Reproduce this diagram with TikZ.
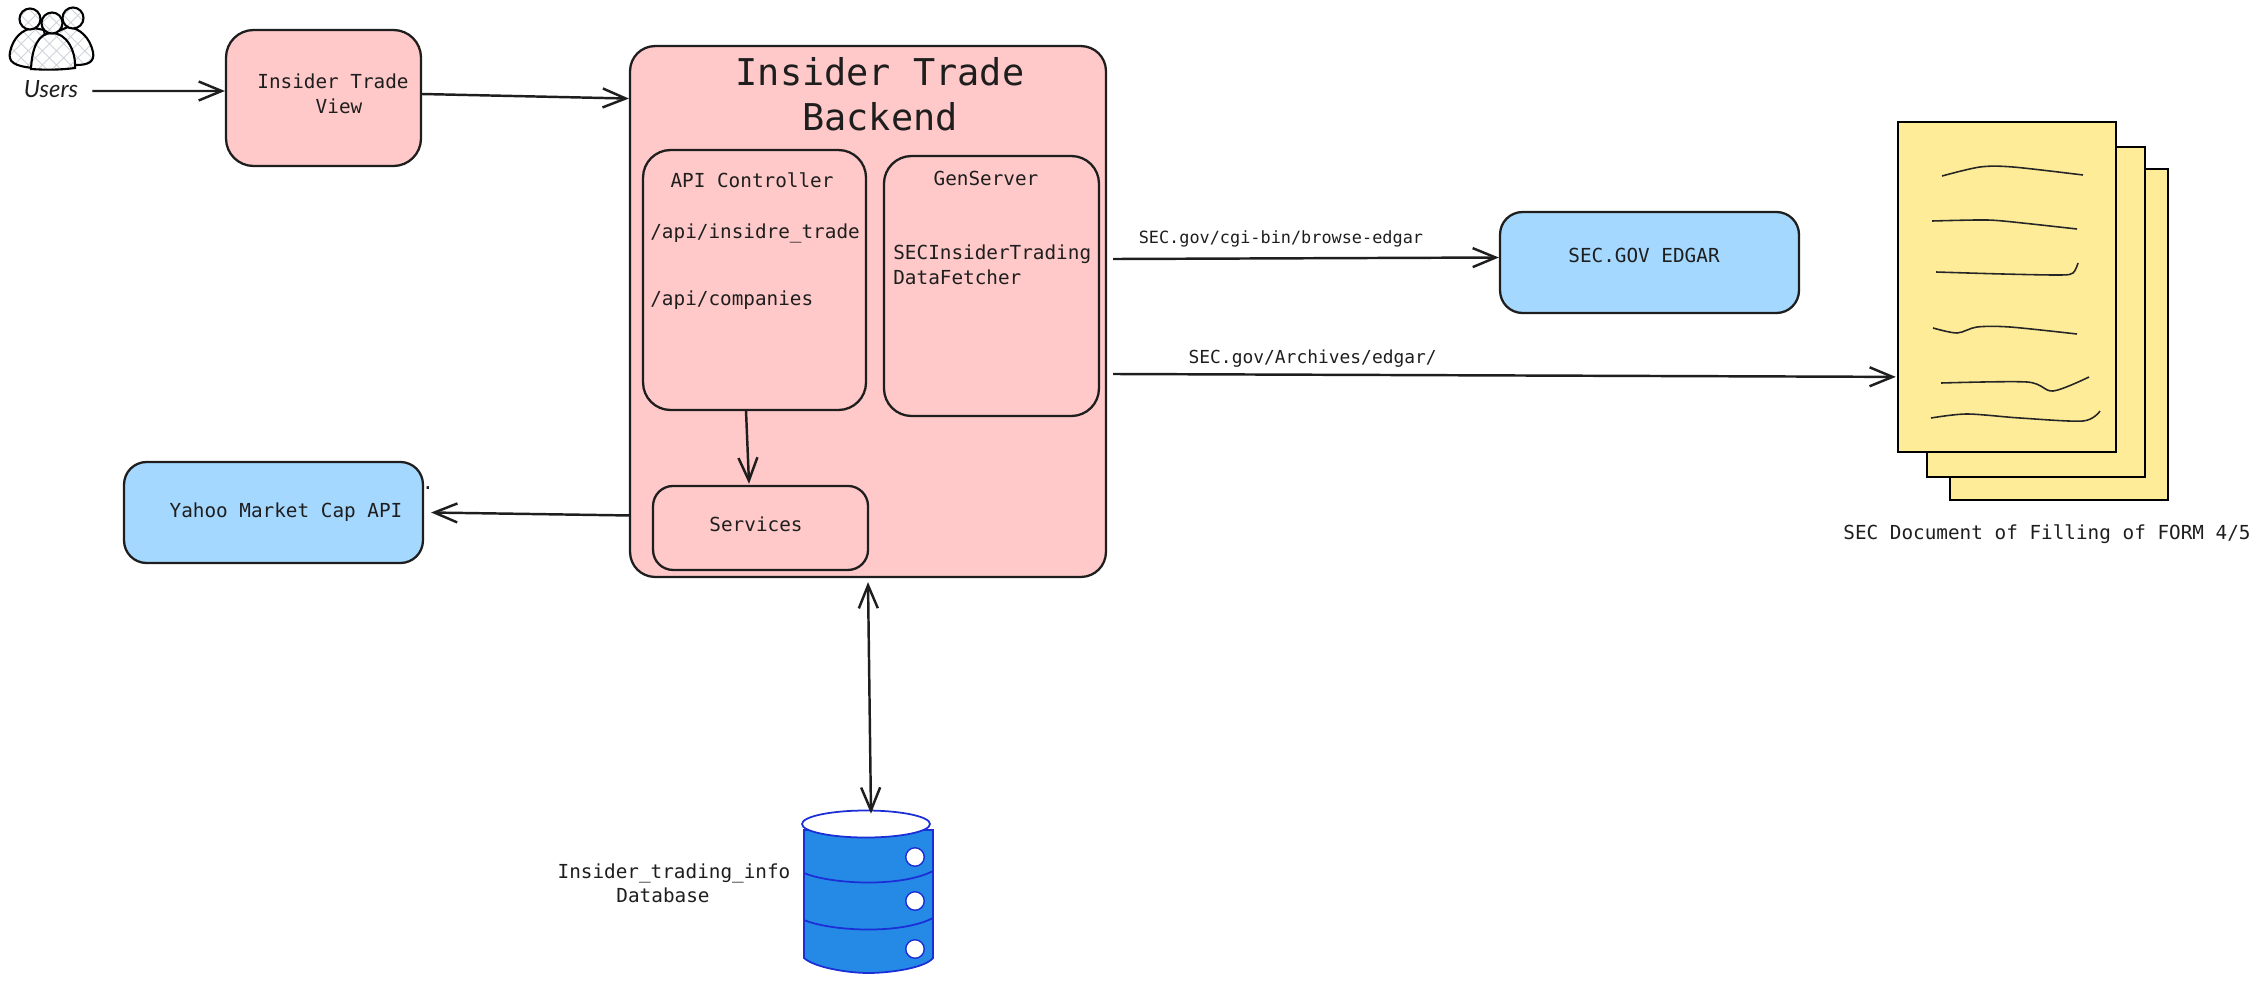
\documentclass[tikz,border=0pt]{standalone}
\usepackage{fontspec}
\setmainfont{Lato}
\setmonofont{DejaVu Sans Mono}
\usetikzlibrary{positioning,arrows.meta,patterns.meta,shapes.geometric}
\definecolor{inkgrey}{HTML}{1E1E1E}
\definecolor{boxpink}{HTML}{FFC9C9}
\definecolor{boxblue}{HTML}{A5D8FF}
\definecolor{pageyellow}{HTML}{FFEC99}
\definecolor{dbfill}{HTML}{2589E6}
\definecolor{dbline}{HTML}{1C2FD6}
\definecolor{hatchgrey}{HTML}{CED4DA}
\tikzset{
  box/.style={draw=inkgrey, fill=boxpink, rounded corners=0.55cm, line width=1.3pt},
  apibox/.style={box, minimum width=4.46cm, minimum height=5.2cm},
  extbox/.style={box, fill=boxblue, rounded corners=0.45cm, minimum width=5.98cm, minimum height=2.02cm},
  page/.style={draw=black, fill=pageyellow, line width=1.3pt, minimum width=4.36cm, minimum height=6.6cm},
  txt/.style={text=inkgrey, inner sep=0pt, align=center, font=\ttfamily\fontsize{11}{13.9}\selectfont},
  txtleft/.style={txt, align=left, anchor=west},
  titletxt/.style={txt, font=\ttfamily\fontsize{21}{25.6}\selectfont},
  linktxt/.style={txt, font=\ttfamily\fontsize{9.6}{12}\selectfont},
  flow/.style={-{Straight Barb[length=4.6mm,width=3.8mm]}, draw=inkgrey, line width=1.4pt},
  dbflow/.style={{Straight Barb[length=4.6mm,width=3.8mm]}-{Straight Barb[length=4.6mm,width=3.8mm]},
                 draw=inkgrey, line width=1.4pt},
  person/.style={draw=black, line width=1.2pt, preaction={fill=white},
                 pattern={Hatch[angle=45,distance=2mm,line width=0.5pt]}, pattern color=hatchgrey},
  scribble/.style={draw=black!85, line width=0.9pt},
  dbband/.style={draw=dbline, line width=1pt},
  dbhole/.style={circle, draw=dbline, fill=white, line width=0.8pt, inner sep=0pt, minimum size=0.37cm},
}
\begin{document}
\begin{tikzpicture}[x=0.02cm,y=-0.02cm]
    \useasboundingbox (0,0) rectangle (2262,984);
    % users icon
    \draw[person] (33,68) .. controls (14,66) and (8,62) .. (10,52) .. controls (13,38) and (22,29) .. (34,28)
      -- (44,30) -- (50,68) -- cycle;
    \draw[person] (76,65) .. controls (88,65) and (95,62) .. (93,52) .. controls (90,38) and (80,28) .. (68,27)
      -- (56,32) -- (60,66) -- cycle;
    \draw[person] (31,69) .. controls (32,48) and (38,33) .. (52,33) .. controls (66,33) and (76,50) .. (75,68)
      .. controls (60,70) and (45,70) .. (31,69) -- cycle;
    \draw[person] (30,19) circle (10.5);
    \draw[person] (73,18) circle (10.5);
    \draw[person] (52,23) circle (10.5);
    \node[text=inkgrey, inner sep=0pt, font=\itshape\fontsize{13.5}{15}\selectfont] (users) at (51,89) {Users};

    \node[box, minimum width=3.9cm, minimum height=2.72cm] (view) at (323.5,98) {};
    \node[txt] (viewtxt) at (333,94) {Insider Trade\\\hspace{0.24cm}View};
    \node[box, rounded corners=0.5cm, minimum width=9.52cm, minimum height=10.62cm] (backend) at (868,311.5) {};
    \node[titletxt] (backendtxt) at (880,94) {Insider Trade\\Backend};

    \node[apibox, below right=2.08cm and 0.26cm of backend.north west] (api) {};
    \node[txt] (apitxt) at (752,180) {API Controller};
    \node[txtleft] (routetrade) at (650,233) {/api/insidre\_trade};
    \node[txtleft] (routecomp) at (650,300) {/api/companies};
    \node[apibox, minimum width=4.3cm, below right=2.2cm and 5.08cm of backend.north west] (gen) {};
    \node[txt] (gentxt) at (986,178) {GenServer};
    \node[txtleft] (fetchtxt) at (893,265) {SECInsiderTrading\\DataFetcher};
    \node[box, rounded corners=0.4cm, minimum width=4.3cm, minimum height=1.68cm,
          below right=8.8cm and 0.46cm of backend.north west] (services) {};
    \node[txt] (servicestxt) at (756,524) {Services};

    \node[extbox] (yahoo) at (273.5,512.5) {};
    \node[txt] (yahootxt) at (286,512) {Yahoo Market Cap API};
    \node[txt] (dot) at (428,488) {.};
    \node[extbox] (edgar) at (1649.5,262.5) {};
    \node[txt] (edgartxt) at (1644,255) {SEC.GOV EDGAR};

    % stack of filings
    \node[page, minimum height=6.62cm, anchor=south east] (pageback) at (2169,501) {};
    \node[page, above left=0.46cm and 0.46cm of pageback.south east] (pagemid) {};
    \node[page, above left=0.5cm and 0.58cm of pagemid.south east] (pagefront) {};
    \draw[scribble] plot[smooth] coordinates {(1942,176) (1980,167) (2013,167) (2083,175)};
    \draw[scribble] plot[smooth] coordinates {(1932,221) (1977,220) (2003,221) (2077,229)};
    \draw[scribble] plot[smooth] coordinates {(1936,272) (2003,274) (2060,275) (2073,273) (2078,263)};
    \draw[scribble] plot[smooth] coordinates {(1933,328) (1957,333) (1977,327) (2010,327) (2077,334)};
    \draw[scribble] plot[smooth] coordinates {(1941,383) (2027,382) (2053,391) (2089,377)};
    \draw[scribble] plot[smooth] coordinates {(1931,418) (1967,414) (2020,418) (2083,421) (2100,411)};
    \node[txt] (pagetxt) at (2047,534) {SEC Document of Filling of FORM 4/5};

    % database
    \path[fill=dbfill, draw=dbline, line width=1pt] (804,830) -- (804,958)
      .. controls (815,968) and (850,973) .. (868,973) .. controls (890,973) and (925,968) .. (933,958)
      -- (933,830) -- cycle;
    \draw[dbband] (804,873) .. controls (830,884) and (900,888) .. (933,871);
    \draw[dbband] (804,920) .. controls (830,931) and (900,935) .. (933,918);
    \node[ellipse, draw=dbline, fill=white, line width=1pt, inner sep=0pt,
          minimum width=2.56cm, minimum height=0.54cm] (dbcap) at (866,824) {};
    \foreach \i/\y in {top/857, mid/901, low/949}
      \node[dbhole] (hole\i) at (915,\y) {};
    \node[txt] (dbtxt) at (674,883) {Insider\_trading\_info\\Database\hspace*{0.44cm}};

    \draw[flow] ([xshift=0.28cm,yshift=-0.04cm]users.east) -- ([yshift=0.14cm]view.west);
    \draw[flow] ([yshift=0.08cm]view.east) -- ([yshift=4.26cm]backend.west);
    \draw[flow] ([xshift=0.12cm,yshift=1.05cm]backend.east) --
      node[linktxt, pos=0.435, above=0.2cm] (edgarlink) {SEC.gov/cgi-bin/browse-edgar} ([yshift=0.1cm]edgar.west);
    \draw[flow] ([xshift=0.12cm,yshift=-1.25cm]backend.east) --
      node[linktxt, font=\ttfamily\fontsize{10.2}{12}\selectfont, pos=0.255, above=0.12cm] (archivelink)
      {SEC.gov/Archives/edgar/} ([xshift=-0.02cm,yshift=-1.8cm]pagefront.west);
    \draw[flow] ([yshift=-4.08cm]backend.west) -- ([xshift=0.14cm]yahoo.east);
    \draw[flow] ([xshift=-0.17cm]api.south) -- ([xshift=-0.23cm,yshift=0.02cm]services.north);
    \draw[dbflow] ([yshift=-0.08cm]backend.south) -- ([xshift=0.1cm,yshift=-0.08cm]dbcap.north);
\end{tikzpicture}
\end{document}
